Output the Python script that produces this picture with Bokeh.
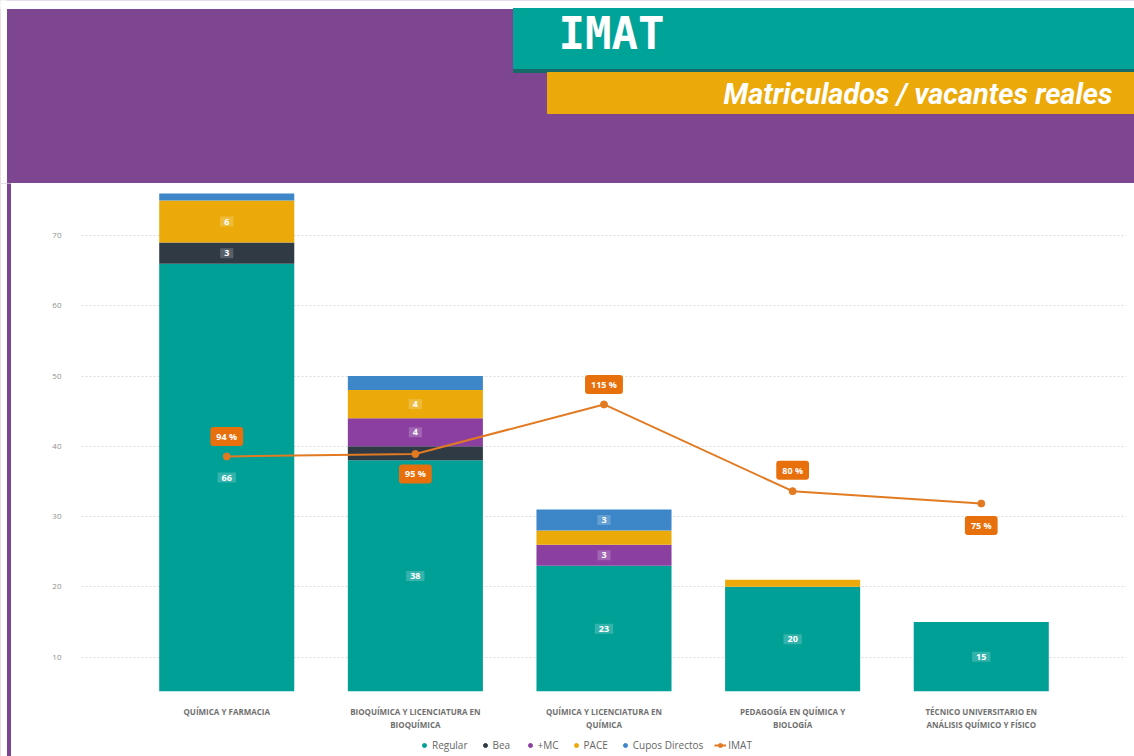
from bokeh.plotting import figure
from bokeh.models import Range1d, FixedTicker, ColumnDataSource, Legend, LegendItem
from bokeh.layouts import column, row
from bokeh.embed import file_html
from bokeh.resources import INLINE
from bokeh.core.properties import value

# ---------------- data ----------------
categories = [
    "QUÍMICA Y FARMACIA",
    "BIOQUÍMICA Y LICENCIATURA EN\nBIOQUÍMICA",
    "QUÍMICA Y LICENCIATURA EN\nQUÍMICA",
    "PEDAGOGÍA EN QUÍMICA Y\nBIOLOGÍA",
    "TÉCNICO UNIVERSITARIO EN\nANÁLISIS QUÍMICO Y FÍSICO",
]
regular = [66, 38, 23, 20, 15]
bea = [3, 2, 0, 0, 0]
mc = [0, 4, 3, 0, 0]
pace = [6, 4, 2, 1, 0]
cupos = [1, 2, 3, 0, 0]
imat_pct = [94, 95, 115, 80, 75]
series_names = ["Regular", "Bea", "+MC", "PACE", "Cupos Directos"]
y_ticks = [10, 20, 30, 40, 50, 60, 70]

# ---------------- styles ----------------
colors = ["#00A096", "#2F3A45", "#8B3FA0", "#EBAA0A", "#3D87C9"]
line_color = "#E27A22"
badge_color = "#E8700C"
purple = "#7E4590"
font = "Open Sans"
nan = float("nan")

series_values = [regular, bea, mc, pace, cupos]
keys = ["s%d" % i for i in range(len(series_names))]
xs = list(range(len(categories)))
data = {"x": xs}
for k, v in zip(keys, series_values):
    data[k] = v
src = ColumnDataSource(data)

y_start, y_end = 5.1, 76.7

p = figure(width=1123, height=549, x_range=Range1d(-0.77, 4.77),
           y_range=Range1d(y_start, y_end), output_backend="svg",
           toolbar_location=None, min_border_left=70, min_border_right=8,
           min_border_top=5, min_border_bottom=41)
p.extra_y_ranges = {"pct": Range1d(-0.9, 202.2)}
p.outline_line_color = None
p.background_fill_color = "white"
p.border_fill_color = "white"

p.vbar_stack(keys, x="x", width=0.716, color=colors, line_color=None, source=src)

# segment labels
lx, ly, lt = [], [], []
for i in xs:
    bottom = 0
    for vals in series_values:
        v = vals[i]
        top = bottom + v
        if v >= 3:
            lx.append(i)
            ly.append((max(bottom, y_start) + top) / 2)
            lt.append(str(v))
        bottom = top
p.text(x="x", y="y", text="t", source=ColumnDataSource(dict(x=lx, y=ly, t=lt)),
       text_color="white", text_font=value(font), text_font_size="9px",
       text_font_style="bold", text_align="center", text_baseline="middle",
       background_fill_color="white", background_fill_alpha=0.2, padding=(4, 2))

# IMAT line
p.line(xs, imat_pct, y_range_name="pct", line_color=line_color, line_width=2)
p.scatter(xs, imat_pct, y_range_name="pct", size=7, color=line_color)
offs = [-20, 20, -20, -21, 22]
p.text(x=xs, y=imat_pct, y_range_name="pct", y_offset=offs,
       text=["%d %%" % v for v in imat_pct], text_color="white",
       text_font=value(font), text_font_size="9px", text_font_style="bold",
       text_align="center", text_baseline="middle",
       background_fill_color=badge_color, padding=(6, 3), border_radius=3)

# axes
p.yaxis.ticker = FixedTicker(ticks=y_ticks)
p.yaxis.axis_line_color = None
p.yaxis.major_tick_line_color = None
p.yaxis.minor_tick_line_color = None
p.yaxis.major_label_text_color = "#8f8f8f"
p.yaxis.major_label_text_font = font
p.yaxis.major_label_text_font_size = "8px"
p.yaxis.major_label_standoff = 14

p.xaxis.ticker = FixedTicker(ticks=xs)
p.xaxis.major_label_overrides = {i: c for i, c in zip(xs, categories)}
p.xaxis.axis_line_color = None
p.xaxis.major_tick_line_color = None
p.xaxis.minor_tick_line_color = None
p.xaxis.major_label_text_color = "#707070"
p.xaxis.major_label_text_font = font
p.xaxis.major_label_text_font_size = "8px"
p.xaxis.major_label_text_font_style = "bold"
p.xaxis.major_label_standoff = 8

p.xgrid.visible = False
p.ygrid.grid_line_color = "#dcdcdc"
p.ygrid.grid_line_dash = "2 2"

# ---------------- legend (separate strip) ----------------
lg = figure(width=1123, height=24, x_range=Range1d(0, 1), y_range=Range1d(0, 1),
            output_backend="svg", toolbar_location=None, min_border=0)
lg.axis.visible = False
lg.grid.visible = False
lg.outline_line_color = None
items = []
for name, c in zip(series_names, colors):
    r = lg.scatter(x=[nan], y=[nan], size=8, color=c)
    items.append(LegendItem(label=name, renderers=[r]))
lr = lg.line(x=[nan, nan], y=[nan, nan], line_color=line_color, line_width=2)
lp = lg.scatter(x=[nan], y=[nan], size=6, color=line_color)
items.append(LegendItem(label="IMAT", renderers=[lr, lp]))
legend = Legend(items=items, orientation="horizontal", location=(337, 4),
                label_text_font=font, label_text_font_size="10px",
                label_text_color="#666666", glyph_width=12, glyph_height=10,
                spacing=11, padding=0, margin=0, label_standoff=2,
                border_line_color=None, background_fill_alpha=0)
lg.add_layout(legend)

# ---------------- header ----------------
h = figure(width=1134, height=183, x_range=Range1d(0, 1134), y_range=Range1d(0, 183),
           output_backend="svg", toolbar_location=None, min_border=0)
h.axis.visible = False
h.grid.visible = False
h.outline_line_color = None
h.background_fill_color = purple
h.border_fill_color = purple
h.quad(left=[0], right=[1134], bottom=[175], top=[183], color="white")
h.quad(left=[0], right=[6], bottom=[0], top=[183], color="white")
h.quad(left=[513], right=[1134], bottom=[111], top=[175], color="#146a66")
h.quad(left=[513], right=[1134], bottom=[115], top=[175], color="#00A398")
h.quad(left=[547], right=[1134], bottom=[70], top=[111], color="#EBA90A")
h.text(x=[558], y=[150], text=["IMAT"], text_font=value("DejaVu Sans Mono"),
       text_font_style="bold", text_font_size="44px", text_color="white",
       text_baseline="middle")
h.text(x=[1112], y=[90], text=["Matriculados / vacantes reales"],
       text_font=value("Roboto"), text_font_style="bold italic",
       text_font_size="29px", text_color="white", text_align="right",
       text_baseline="middle")

# left purple strip
s = figure(width=11, height=573, x_range=Range1d(0, 11), y_range=Range1d(0, 1),
           output_backend="svg", toolbar_location=None, min_border=0)
s.axis.visible = False
s.grid.visible = False
s.outline_line_color = None
s.background_fill_color = purple
s.border_fill_color = purple
s.quad(left=[0], right=[6], bottom=[0], top=[1], color="white")

layout = column(h, row(s, column(p, lg, spacing=0), spacing=0), spacing=0)
open("out.html", "w").write(file_html(layout, INLINE))
